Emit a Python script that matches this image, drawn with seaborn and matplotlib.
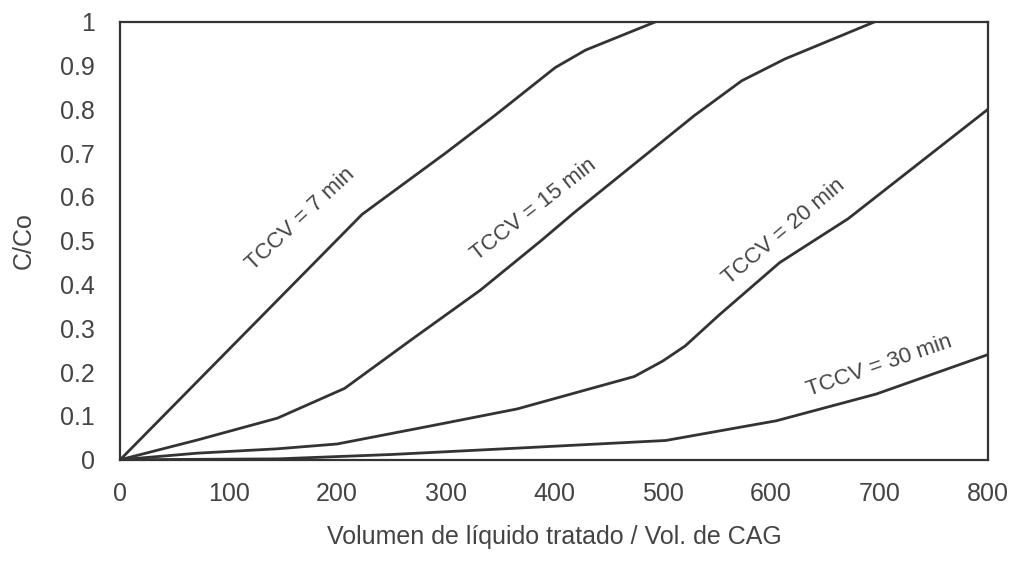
import matplotlib
matplotlib.use("Agg")
import matplotlib.pyplot as plt
import seaborn as sns
import pandas as pd

# Data (Volumen tratado / Vol. CAG vs C/Co)
x_7 = [0, 223, 300, 345, 401, 429, 494]
y_7 = [0, 0.56, 0.70, 0.785, 0.895, 0.935, 1.0]

x_15 = [0, 71, 145, 207, 269, 332, 388, 419, 529, 573, 613, 696]
y_15 = [0, 0.045, 0.095, 0.163, 0.275, 0.387, 0.50, 0.565, 0.785, 0.865, 0.915, 1.0]

x_20 = [0, 71, 145, 200, 292, 366, 474, 500, 521, 552, 608, 671, 800]
y_20 = [0, 0.015, 0.025, 0.036, 0.08, 0.116, 0.19, 0.225, 0.26, 0.33, 0.45, 0.55, 0.80]

x_30 = [0, 145, 250, 370, 503, 605, 697, 800]
y_30 = [0, 0.002, 0.012, 0.027, 0.044, 0.089, 0.15, 0.24]

labels = ["TCCV = 7 min", "TCCV = 15 min", "TCCV = 20 min", "TCCV = 30 min"]
x_ticks = [0, 100, 200, 300, 400, 500, 600, 700, 800]
y_ticks = [0, 0.1, 0.2, 0.3, 0.4, 0.5, 0.6, 0.7, 0.8, 0.9, 1]
y_ticklabels = ["0", "0.1", "0.2", "0.3", "0.4", "0.5", "0.6", "0.7", "0.8", "0.9", "1"]

sns.set_theme(style="white")
plt.rcParams["font.family"] = ["Liberation Sans", "DejaVu Sans"]

fig = plt.figure(figsize=(10.27, 5.69), dpi=100)
ax = fig.add_axes([0.117, 0.192, 0.845, 0.77])

line_color = "#333333"
series = [(x_7, y_7), (x_15, y_15), (x_20, y_20), (x_30, y_30)]
for (xs, ys), lab in zip(series, labels):
    df = pd.DataFrame({"x": xs, "y": ys})
    sns.lineplot(data=df, x="x", y="y", ax=ax, color=line_color,
                 linewidth=2.0, sort=False, estimator=None)

# curve labels (data coords, rotated along the curves)
ann = [(166, 0.55, 43), (381, 0.57, 38), (612, 0.52, 40), (700, 0.215, 19)]
for lab, (xa, ya, rot) in zip(labels, ann):
    ax.text(xa, ya, lab, fontsize=16, color="#444444", rotation=rot,
            ha="center", va="center", rotation_mode="anchor")

ax.set_xlim(0, 800)
ax.set_ylim(0, 1)
ax.set_xticks(x_ticks)
ax.set_yticks(y_ticks)
ax.set_yticklabels(y_ticklabels)
ax.tick_params(axis="both", length=0, labelsize=18, colors="#444444")
ax.tick_params(axis="x", pad=16)
ax.tick_params(axis="y", pad=18)
ax.set_xlabel("Volumen de líquido tratado / Vol. de CAG", fontsize=18,
              color="#444444", labelpad=14)
ax.set_ylabel("C/Co", fontsize=18, color="#444444", labelpad=18)
for s in ax.spines.values():
    s.set_visible(True)
    s.set_color("#333333")
    s.set_linewidth(1.6)

fig.savefig("out.png", dpi=100, facecolor="white")
